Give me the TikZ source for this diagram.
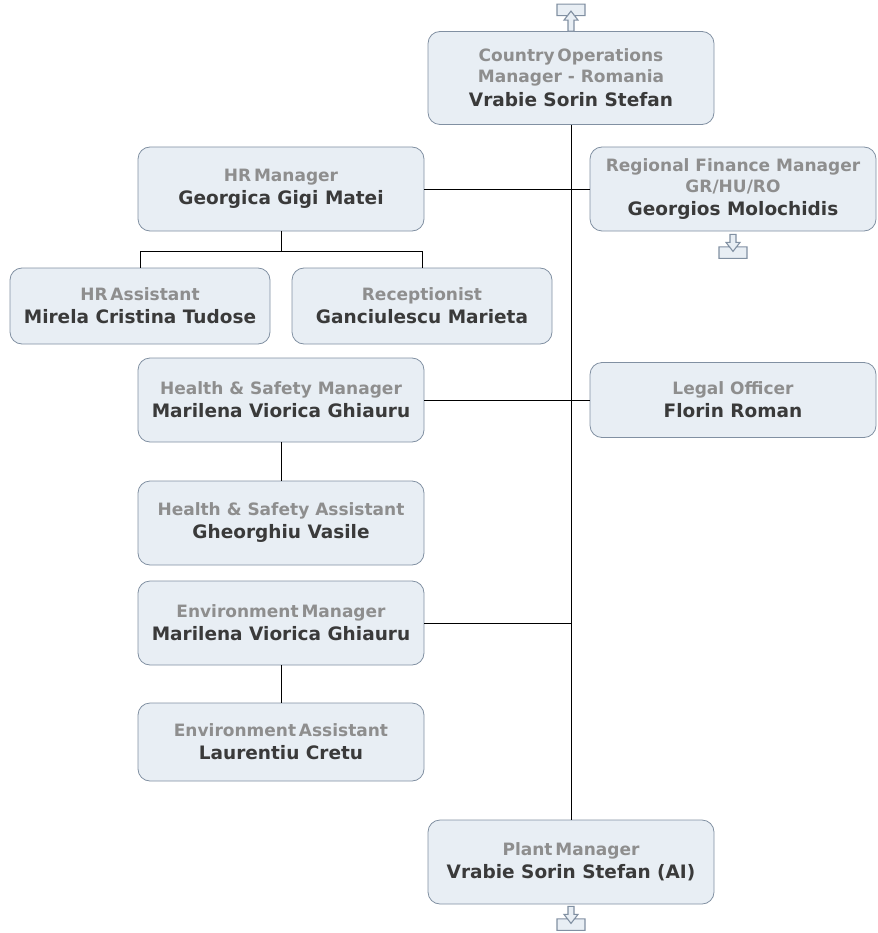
\documentclass[tikz,border=0pt]{standalone}
\usepackage{fontspec}
\setmainfont{DejaVu Sans}
\usetikzlibrary{positioning}

\definecolor{boxfill}{HTML}{E8EEF4}
\definecolor{boxline}{HTML}{8190A2}
\definecolor{roletext}{HTML}{8E8E8E}
\definecolor{nametext}{HTML}{3A3A3A}

\newcommand{\role}[1]{{\color{roletext}#1}}
\newcommand{\who}[1]{{\color{nametext}\fontsize{18.5}{22}\selectfont #1}}

% small tray icons under/over a box
\newcommand{\traydown}[1]{%
  \draw[icon] #1 ++(-3,0) -- ++(6,0) -- ++(0,8) -- ++(4,0) -- ++(-3.5,4.5)
    -- ++(10.5,0) -- ++(0,11.5) -- ++(-28,0) -- ++(0,-11.5) -- ++(10.5,0)
    -- ++(-3.5,-4.5) -- ++(4,0) -- cycle;
  \draw[icon] #1 ++(-3.5,12.5) -- ++(3.5,4.5) -- ++(3.5,-4.5);}
\newcommand{\trayup}[1]{%
  \draw[icon] #1 ++(-3,0) -- ++(6,0) -- ++(0,-11) -- ++(4,0) -- ++(-3.5,-4.5)
    -- ++(10.5,0) -- ++(0,-11.5) -- ++(-28,0) -- ++(0,11.5) -- ++(10.5,0)
    -- ++(-3.5,4.5) -- ++(4,0) -- cycle;
  \draw[icon] #1 ++(-3.5,-15.5) -- ++(3.5,-4.5) -- ++(3.5,4.5);}

\begin{document}
\begin{tikzpicture}[x=1pt, y=-1pt, node distance=100pt, on grid, thick,
  font=\bfseries\fontsize{17}{21}\selectfont,
  person/.style={draw=boxline, fill=boxfill, rounded corners=12pt, align=center,
    minimum width=286pt, minimum height=84pt, inner sep=3pt},
  helper/.style={person, minimum width=260pt, minimum height=76pt},
  link/.style={draw=black, line width=0.9pt},
  icon/.style={draw=boxline, fill=boxfill, line width=1.1pt, line join=miter}]
  \useasboundingbox (0,0) rectangle (877,933);

  \node[person, minimum height=93pt] (CEO) at (571,78)
    {\role{Country\,Operations}\\\role{Manager - Romania}\\[3pt]\who{Vrabie Sorin Stefan}};
  \node[person] (HRM) [below left=110pt and 290pt of CEO, yshift=-1pt]
    {\role{HR\,Manager}\\[2pt]\who{Georgica Gigi Matei}};
  \node[person] (RFM) [right=452pt of HRM]
    {\role{Regional Finance Manager}\\\role{GR/HU/RO}\\[2pt]\who{Georgios Molochidis}};
  \node[helper] (HRA) [below left=117pt and 141pt of HRM]
    {\role{HR\,Assistant}\\[2pt]\who{Mirela Cristina Tudose}};
  \node[helper] (REC) [right=282pt of HRA]
    {\role{Receptionist}\\[2pt]\who{Ganciulescu Marieta}};
  \node[person] (HSM) [below=211pt of HRM]
    {\role{Health \& Safety Manager}\\[2pt]\who{Marilena Viorica Ghiauru}};
  \node[person, minimum height=75pt] (LEG) [right=452pt of HSM]
    {\role{Legal Officer}\\[2pt]\who{Florin Roman}};
  \node[person] (HSA) [below=123pt of HSM]
    {\role{Health \& Safety Assistant}\\[2pt]\who{Gheorghiu Vasile}};
  \node[person] (ENM) [below=100pt of HSA]
    {\role{Environment\,Manager}\\[2pt]\who{Marilena Viorica Ghiauru}};
  \node[person, minimum height=78pt] (ENA) [below=119pt of ENM]
    {\role{Environment\,Assistant}\\[2pt]\who{Laurentiu Cretu}};
  \node[person] (PLM) at (571,862)
    {\role{Plant\,Manager}\\[2pt]\who{Vrabie Sorin Stefan (AI)}};

  % reporting lines
  \draw[link] (CEO.south) -- (PLM.north);
  \draw[link] (HRM.east) -- (RFM.west);
  \draw[link] (HSM.east) -- (LEG.west);
  \draw[link] (ENM.east) -- (ENM.east -| CEO.south);
  \draw[link] (HRM.south) -- ([yshift=-20pt]HRM.south);
  \draw[link] (HRA.north) |- ([yshift=-20pt]HRM.south) -| (REC.north);
  \draw[link] (HSM.south) -- (HSA.north);
  \draw[link] (ENM.south) -- (ENA.north);

  \trayup{(CEO.north)}
  \traydown{([yshift=-3pt]RFM.south)}
  \traydown{([yshift=-2pt]PLM.south)}
\end{tikzpicture}
\end{document}
